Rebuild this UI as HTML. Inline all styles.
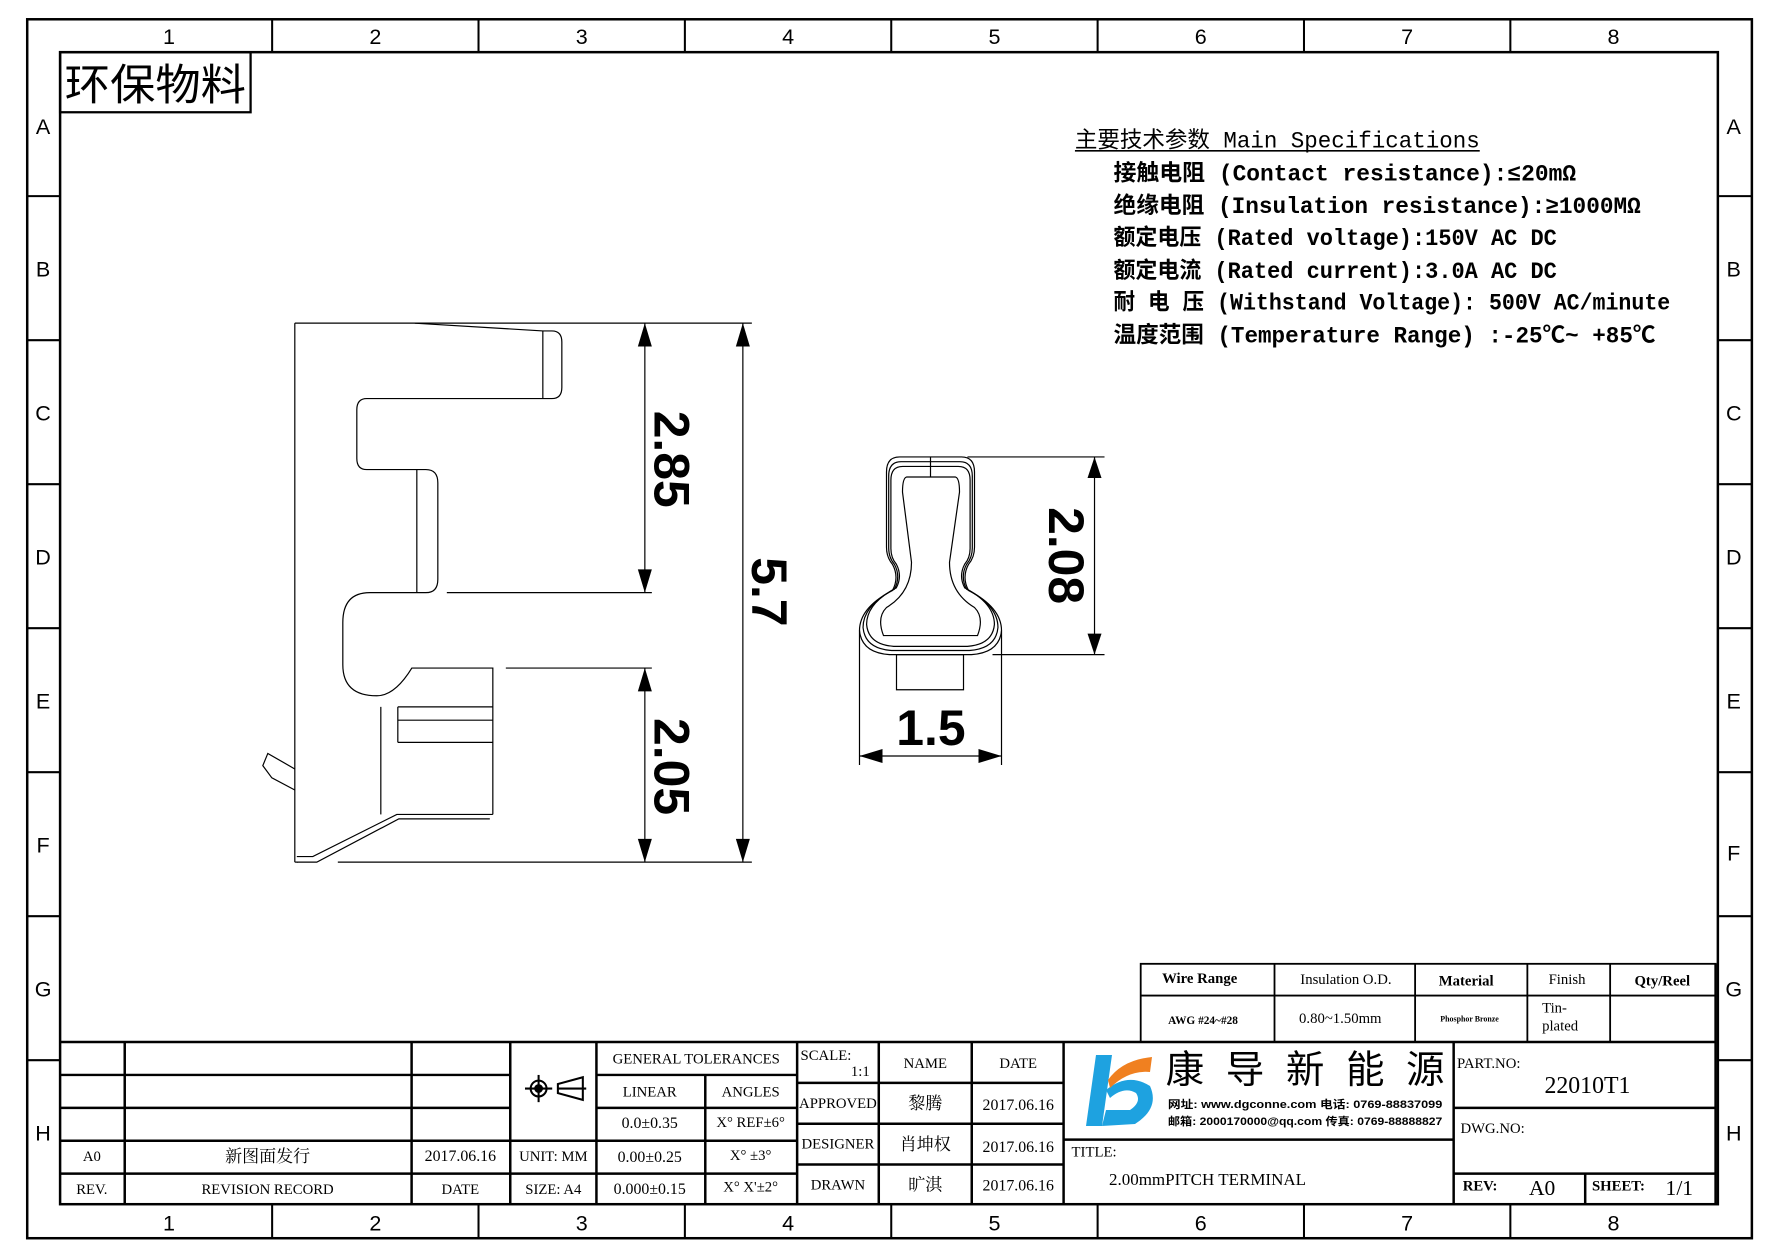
<!DOCTYPE html>
<html><head><meta charset="utf-8"><style>
html,body{margin:0;padding:0;background:#fff;}
svg{display:block;}
text{font-family:"Liberation Sans","Noto Sans CJK SC",sans-serif;fill:#000;}
.s text,text.s{font-family:"Liberation Serif","Noto Serif CJK SC","Noto Sans CJK SC",serif;}
.m text,text.m{font-family:"Liberation Mono","Noto Sans CJK SC",monospace;}
.d path,.d line,.d rect{vector-effect:non-scaling-stroke;}
</style></head><body>
<svg width="1778" height="1257" viewBox="0 0 1778 1257" xmlns="http://www.w3.org/2000/svg">
<rect width="1778" height="1257" fill="#fff"/>
<g transform="scale(1.1339)" stroke="#000" fill="none">
<rect x="24" y="17" width="1521" height="1075" stroke-width="2.2"/>
<rect x="53" y="46" width="1462" height="1016" stroke-width="2.2"/>
<g stroke-width="1.8">
<line x1="240" y1="17" x2="240" y2="46"/><line x1="422" y1="17" x2="422" y2="46"/><line x1="604" y1="17" x2="604" y2="46"/><line x1="786" y1="17" x2="786" y2="46"/><line x1="968" y1="17" x2="968" y2="46"/><line x1="1150" y1="17" x2="1150" y2="46"/><line x1="1332" y1="17" x2="1332" y2="46"/>
<line x1="240" y1="1062" x2="240" y2="1092"/><line x1="422" y1="1062" x2="422" y2="1092"/><line x1="604" y1="1062" x2="604" y2="1092"/><line x1="786" y1="1062" x2="786" y2="1092"/><line x1="968" y1="1062" x2="968" y2="1092"/><line x1="1150" y1="1062" x2="1150" y2="1092"/><line x1="1332" y1="1062" x2="1332" y2="1092"/>
<line x1="24" y1="173" x2="53" y2="173"/><line x1="24" y1="300" x2="53" y2="300"/><line x1="24" y1="427" x2="53" y2="427"/><line x1="24" y1="554" x2="53" y2="554"/><line x1="24" y1="681" x2="53" y2="681"/><line x1="24" y1="808" x2="53" y2="808"/><line x1="24" y1="935" x2="53" y2="935"/>
<line x1="1515" y1="173" x2="1545" y2="173"/><line x1="1515" y1="300" x2="1545" y2="300"/><line x1="1515" y1="427" x2="1545" y2="427"/><line x1="1515" y1="554" x2="1545" y2="554"/><line x1="1515" y1="681" x2="1545" y2="681"/><line x1="1515" y1="808" x2="1545" y2="808"/><line x1="1515" y1="935" x2="1545" y2="935"/>
</g>
<g stroke="none" font-size="19" text-anchor="middle">
<text x="149" y="39">1</text><text x="331" y="39">2</text><text x="513" y="39">3</text><text x="695" y="39">4</text><text x="877" y="39">5</text><text x="1059" y="39">6</text><text x="1241" y="39">7</text><text x="1423" y="39">8</text>
<text x="149" y="1085">1</text><text x="331" y="1085">2</text><text x="513" y="1085">3</text><text x="695" y="1085">4</text><text x="877" y="1085">5</text><text x="1059" y="1085">6</text><text x="1241" y="1085">7</text><text x="1423" y="1085">8</text>
<text x="38" y="118">A</text><text x="38" y="244">B</text><text x="38" y="371">C</text><text x="38" y="498">D</text><text x="38" y="625">E</text><text x="38" y="752">F</text><text x="38" y="879">G</text><text x="38" y="1006">H</text>
<text x="1529" y="118">A</text><text x="1529" y="244">B</text><text x="1529" y="371">C</text><text x="1529" y="498">D</text><text x="1529" y="625">E</text><text x="1529" y="759">F</text><text x="1529" y="879">G</text><text x="1529" y="1006">H</text>
</g>
<rect x="53" y="46" width="168" height="53" stroke-width="2"/>
<text x="57" y="88" font-size="38" stroke="none" textLength="160" lengthAdjust="spacingAndGlyphs">环保物料</text>
<g stroke="none" class="m" font-size="20">
<text x="948" y="130" textLength="357" lengthAdjust="spacingAndGlyphs">主要技术参数 Main Specifications</text>
<g font-weight="bold">
<text x="982" y="159" textLength="408" lengthAdjust="spacingAndGlyphs">接触电阻 (Contact resistance):≤20mΩ</text>
<text x="982" y="188" textLength="465" lengthAdjust="spacingAndGlyphs">绝缘电阻 (Insulation resistance):≥1000MΩ</text>
<text x="982" y="216" textLength="391" lengthAdjust="spacingAndGlyphs">额定电压 (Rated voltage):150V AC DC</text>
<text x="982" y="245" textLength="391" lengthAdjust="spacingAndGlyphs">额定电流 (Rated current):3.0A AC DC</text>
<text x="982" y="273" textLength="491" lengthAdjust="spacingAndGlyphs">耐 电 压 (Withstand Voltage): 500V AC/minute</text>
<text x="982" y="302" textLength="478" lengthAdjust="spacingAndGlyphs">温度范围 (Temperature Range) :-25℃~ +85℃</text>
</g>
</g>
<line x1="948" y1="133" x2="1305" y2="133" stroke-width="1.5"/>

<g stroke-width="1.6">
<rect x="1006" y="850" width="507" height="69"/>
<line x1="1006" y1="878" x2="1513" y2="878"/>
<line x1="1124" y1="850" x2="1124" y2="919"/><line x1="1248" y1="850" x2="1248" y2="919"/><line x1="1347" y1="850" x2="1347" y2="919"/><line x1="1420" y1="850" x2="1420" y2="919"/>
</g>
<g stroke="none" class="s" font-size="13" text-anchor="middle">
<text x="1058" y="867" font-weight="bold">Wire Range</text>
<text x="1187" y="868">Insulation O.D.</text>
<text x="1293" y="869" font-weight="bold">Material</text>
<text x="1382" y="868">Finish</text>
<text x="1466" y="869" font-weight="bold">Qty/Reel</text>
<text x="1061" y="903" font-size="10" font-weight="bold">AWG #24~#28</text>
<text x="1182" y="902">0.80~1.50mm</text>
<text x="1296" y="901" font-size="7" font-weight="bold">Phosphor Bronze</text>
<text x="1360" y="893" text-anchor="start">Tin-</text>
<text x="1360" y="909" text-anchor="start">plated</text>
</g>

<g stroke-width="2.2">
<line x1="53" y1="919" x2="1513" y2="919"/>
<line x1="53" y1="948" x2="450" y2="948"/><line x1="53" y1="977" x2="450" y2="977"/><line x1="53" y1="1006" x2="526" y2="1006"/><line x1="53" y1="1035" x2="703" y2="1035"/>
<line x1="110" y1="919" x2="110" y2="1062"/><line x1="363" y1="919" x2="363" y2="1062"/><line x1="450" y1="919" x2="450" y2="1062"/><line x1="526" y1="919" x2="526" y2="1062"/><line x1="703" y1="919" x2="703" y2="1062"/>
<line x1="526" y1="948" x2="703" y2="948"/><line x1="526" y1="977" x2="703" y2="977"/><line x1="526" y1="1006" x2="703" y2="1006"/>
<line x1="622" y1="948" x2="622" y2="1062"/>
<line x1="775" y1="919" x2="775" y2="1062"/><line x1="857" y1="919" x2="857" y2="1062"/><line x1="938" y1="919" x2="938" y2="1062"/>
<line x1="703" y1="955" x2="938" y2="955"/><line x1="703" y1="991" x2="938" y2="991"/><line x1="703" y1="1027" x2="938" y2="1027"/>
<line x1="938" y1="1005" x2="1282" y2="1005"/>
<line x1="1282" y1="919" x2="1282" y2="1062"/>
<line x1="1282" y1="977" x2="1513" y2="977"/><line x1="1282" y1="1035" x2="1513" y2="1035"/>
<line x1="1398" y1="1035" x2="1398" y2="1062"/>
<line x1="1513" y1="850" x2="1513" y2="1062"/>
</g>
<g stroke="none" class="s" font-size="13" text-anchor="middle">
<text x="81" y="1024">A0</text><text x="236" y="1025" font-size="15">新图面发行</text><text x="406" y="1024" font-size="14">2017.06.16</text>
<text x="81" y="1053">REV.</text><text x="236" y="1053">REVISION RECORD</text><text x="406" y="1053">DATE</text>
<text x="488" y="1024">UNIT: MM</text><text x="488" y="1053">SIZE: A4</text>
<text x="614" y="938">GENERAL TOLERANCES</text>
<text x="573" y="967">LINEAR</text><text x="662" y="967">ANGLES</text>
<text x="573" y="995" font-size="14">0.0±0.35</text><text x="662" y="994">X° REF±6°</text>
<text x="573" y="1025" font-size="14">0.00±0.25</text><text x="662" y="1023">X° ±3°</text>
<text x="573" y="1053" font-size="14">0.000±0.15</text><text x="662" y="1051">X° X'±2°</text>
<text x="706" y="935" text-anchor="start">SCALE:</text><text x="767" y="949" text-anchor="end">1:1</text>
<text x="816" y="942">NAME</text><text x="898" y="942">DATE</text>
<text x="739" y="977">APPROVED</text><text x="816" y="978" font-size="15">黎腾</text><text x="898" y="979" font-size="14">2017.06.16</text>
<text x="739" y="1013">DESIGNER</text><text x="816" y="1014" font-size="15">肖坤权</text><text x="898" y="1016" font-size="14">2017.06.16</text>
<text x="739" y="1049">DRAWN</text><text x="816" y="1050" font-size="15">旷淇</text><text x="898" y="1050" font-size="14">2017.06.16</text>
<text x="945" y="1020" text-anchor="start">TITLE:</text>
<text x="978" y="1045" text-anchor="start" font-size="15">2.00mmPITCH TERMINAL</text>
<text x="1285" y="942" text-anchor="start">PART.NO:</text>
<text x="1400" y="964" font-size="21">22010T1</text>
<text x="1288" y="999" text-anchor="start">DWG.NO:</text>
<text x="1290" y="1050" text-anchor="start" font-weight="bold">REV:</text>
<text x="1360" y="1054" font-size="19">A0</text>
<text x="1404" y="1050" text-anchor="start" font-weight="bold">SHEET:</text>
<text x="1481" y="1054" font-size="19">1/1</text>
</g>
<g stroke-width="1.8">
<circle cx="475" cy="960" r="7"/><circle cx="475" cy="960" r="3" fill="#000"/>
<line x1="463" y1="960" x2="487" y2="960"/><line x1="475" y1="948" x2="475" y2="972"/>
<path d="M492 960 L492 956 L514 950 L514 970 L492 964 Z"/><line x1="492" y1="960" x2="517" y2="960"/>
</g>
<g stroke="none" font-size="34">
<text x="1028" y="955">康</text><text x="1081" y="955">导</text><text x="1134" y="955">新</text><text x="1187" y="955">能</text><text x="1240" y="955">源</text>
<text x="1030" y="977" font-size="9.5" font-weight="bold" textLength="242" lengthAdjust="spacingAndGlyphs">网址: www.dgconne.com    电话: 0769-88837099</text>
<text x="1030" y="992" font-size="9.5" font-weight="bold" textLength="242" lengthAdjust="spacingAndGlyphs">邮箱: 2000170000@qq.com 传真: 0769-88888827</text>
</g>

<g class="d" transform="translate(260,285) scale(0.882,0.978) translate(-295,-320)" stroke-width="1.2">
<line x1="295" y1="320" x2="295" y2="806"/>
<line x1="295" y1="320" x2="752" y2="320"/>
<line x1="295" y1="806" x2="298" y2="806"/><line x1="338" y1="806" x2="752" y2="806"/>
<path d="M415 320 L543 327 L552 327 Q562 327 562 337 L562 378 Q562 388 552 388 L367 388 Q357 388 357 398 L357 442 Q357 452 367 452 L426 452 Q438 452 438 464 L438 551 Q438 563 426 563 L370 563 Q343 563 343 590 L343 628 Q343 656 377 656 Q395 656 412 631 L493 631 L493 763"/>
<line x1="543" y1="327" x2="543" y2="388"/>
<line x1="417" y1="452" x2="417" y2="563"/>
<line x1="447" y1="563" x2="652" y2="563"/>
<line x1="506" y1="631" x2="652" y2="631"/>
<path d="M398 666 L493 666 M398 678 L493 678 M398 698 L493 698 M398 666 L398 698"/>
<line x1="381" y1="666" x2="381" y2="763"/>
<path d="M493 763 L397 763 L313 801 L297 801"/>
<path d="M490 767 L399 767 L317 806 L297 806"/>
<path d="M295 722 L268 708 L263 719 L272 730 L295 741"/>
<line x1="645" y1="320" x2="645" y2="563"/>
<line x1="645" y1="631" x2="645" y2="806"/>
<line x1="743" y1="320" x2="743" y2="806"/>
<g fill="#000" stroke="none">
<path d="M645 320 L638 341 L652 341 Z"/><path d="M645 563 L638 542 L652 542 Z"/>
<path d="M645 631 L638 652 L652 652 Z"/><path d="M645 806 L638 785 L652 785 Z"/>
<path d="M743 320 L736 341 L750 341 Z"/><path d="M743 806 L736 785 L750 785 Z"/>
</g>
</g>
<g stroke="none" font-size="44" font-weight="bold" text-anchor="middle">
<text transform="translate(577,405) rotate(90)">2.85</text>
<text transform="translate(577,676) rotate(90)">2.05</text>
<text transform="translate(663,522) rotate(90)">5.7</text>
<text transform="translate(925,490) rotate(90)">2.08</text>
<text x="821" y="657">1.5</text>
</g>

<g class="d" transform="translate(758,403) scale(0.882,0.885) translate(-860,-455)" stroke-width="1.2">
<path d="M931 455 L900 455 Q887 455 887 470 L887 545 Q887 555 893 562 Q900 575 893 588 Q860 605 860 628 Q862 650 890 652 L972 652 Q1000 650 1002 628 Q1002 605 969 588 Q962 575 969 562 Q975 555 975 545 L975 470 Q975 455 962 455 Z"/>
<path transform="translate(931,560) scale(0.95,0.955) translate(-931,-560)" d="M931 455 L900 455 Q887 455 887 470 L887 545 Q887 555 893 562 Q900 575 893 588 Q860 605 860 628 Q862 650 890 652 L972 652 Q1000 650 1002 628 Q1002 605 969 588 Q962 575 969 562 Q975 555 975 545 L975 470 Q975 455 962 455 Z"/>
<path transform="translate(931,560) scale(0.9,0.91) translate(-931,-560)" d="M931 455 L900 455 Q887 455 887 470 L887 545 Q887 555 893 562 Q900 575 893 588 Q860 605 860 628 Q862 650 890 652 L972 652 Q1000 650 1002 628 Q1002 605 969 588 Q962 575 969 562 Q975 555 975 545 L975 470 Q975 455 962 455 Z"/>
<path d="M907 475 L956 475 Q960 476 960 490 L950 560 Q950 590 975 605 Q985 615 978 633 L884 633 Q877 615 887 605 Q912 590 912 560 L903 490 Q903 476 907 475 Z"/>
<line x1="931" y1="455" x2="931" y2="475"/>
<rect x="897" y="652" width="67" height="35"/>
<line x1="968" y1="455" x2="1105" y2="455"/>
<line x1="993" y1="652" x2="1105" y2="652"/>
<line x1="1095" y1="455" x2="1095" y2="652"/>
<line x1="860" y1="628" x2="860" y2="762"/><line x1="1002" y1="628" x2="1002" y2="762"/>
<line x1="860" y1="753" x2="1002" y2="753"/>
<g fill="#000" stroke="none">
<path d="M1095 455 L1088 476 L1102 476 Z"/><path d="M1095 652 L1088 631 L1102 631 Z"/>
<path d="M860 753 L883 746 L883 760 Z"/><path d="M1002 753 L979 746 L979 760 Z"/>
</g>
</g>
</g>
<g stroke="none">
<path d="M1096 1055 L1112 1055 L1102 1126 L1086 1126 Z" fill="#1ea2e0"/>
<path d="M1106 1090 Q1128 1072 1150 1086 Q1160 1108 1135 1124 L1102 1126 L1106 1110 L1130 1110 Q1142 1102 1136 1093 Q1124 1086 1110 1098 Z" fill="#1ea2e0"/>
<path d="M1108 1080 Q1122 1060 1152 1057 L1150 1072 Q1128 1070 1110 1088 Z" fill="#f08020"/>
</g>
</svg>
</body></html>
